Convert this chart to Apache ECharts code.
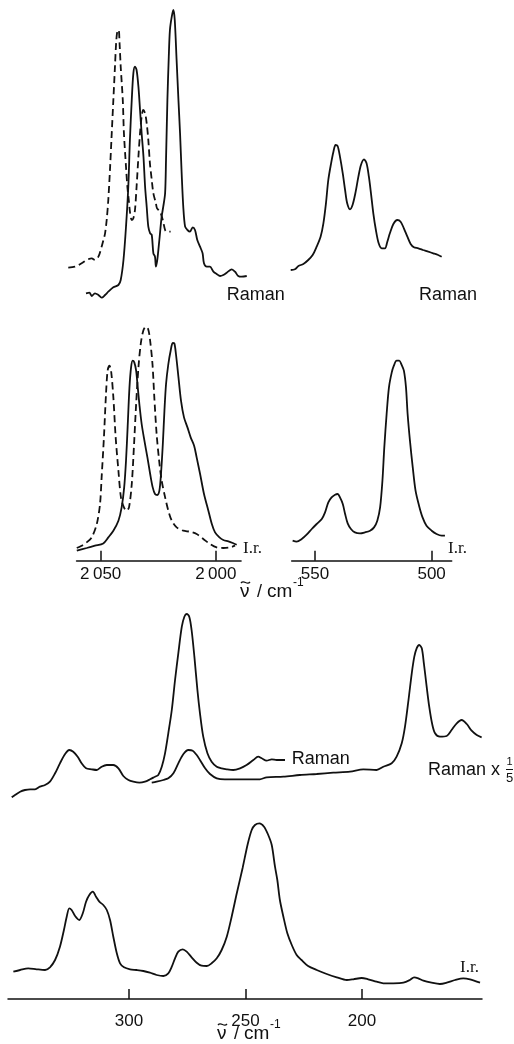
<!DOCTYPE html>
<html>
<head>
<meta charset="utf-8">
<script src="https://cdn.jsdelivr.net/npm/echarts@6/dist/echarts.min.js"></script>
<style>
html,body{margin:0;padding:0;background:#fff;}
#chart{width:514px;height:1044px;}
</style>
</head>
<body>
<div id="chart"></div>
<script>
// ---- data: [wavenumber (cm-1), relative intensity (arb. units)] ----
// Raman, CO stretching region, solid
const ramanHighSolid = [[2056.4,16.7],[2054.9,17.3],[2053.9,14.0],[2052.5,16.7],[2051.0,15.0],[2049.6,12.3],[2048.1,15.0],[2046.7,18.3],[2044.5,22.7],[2042.3,25.0],[2041.3,30.0],[2040.1,50.0],[2039.0,83.3],[2038.0,123.3],[2037.3,170],[2036.5,210],[2035.8,236.7],[2035.1,243.3],[2034.4,240],[2033.6,223.3],[2032.9,200],[2032.2,176.7],[2031.4,153.3],[2030.7,123.3],[2030.0,103.3],[2029.3,83.3],[2028.5,76.7],[2027.8,75],[2027.1,56.7],[2026.4,53.3],[2026.0,43.3],[2025.4,50],[2024.5,70],[2023.5,93.3],[2022.8,103.3],[2022.0,116.7],[2021.6,150],[2021.0,210],[2020.4,253.3],[2019.9,280],[2019.1,293.3],[2018.4,300],[2017.8,290],[2017.0,250],[2016.2,210],[2015.5,176.7],[2014.8,136.7],[2014.1,103.3],[2013.3,83.3],[2012.3,80],[2011.2,78.3],[2010.0,82.7],[2009.0,80],[2008.0,70],[2006.8,63.3],[2005.7,56.7],[2005.1,46.7],[2003.9,43.3],[2002.5,43.3],[2001.0,38.3],[1999.6,36],[1998.1,34],[1996.7,35],[1995.2,37.3],[1993.0,40.7],[1991.6,38.3],[1990.2,34],[1988.7,33.3],[1986.5,34]];
// Raman, CO stretching region, dashed
const ramanHighDashed = [[2064.1,42.3],[2061.2,43.3],[2058.3,46.7],[2056.1,50],[2053.9,51.7],[2052.5,50],[2051.0,53.3],[2049.6,63.3],[2048.8,70],[2048.1,76.7],[2047.4,90],[2046.7,110],[2045.9,143.3],[2045.2,176.7],[2044.5,210],[2043.8,243.3],[2043.3,266.7],[2042.8,278.3],[2042.2,280],[2041.8,266.7],[2041.3,243.3],[2040.4,210],[2039.9,176.7],[2039.0,143.3],[2038.4,123.3],[2037.8,110],[2037.2,96.7],[2036.5,90],[2035.8,91.7],[2035.1,100],[2034.4,123.3],[2033.6,153.3],[2032.9,176.7],[2032.2,193.3],[2031.5,200],[2030.7,196.7],[2030.0,186.7],[2029.3,170],[2028.6,146.7],[2027.8,130],[2027.1,116.7],[2026.0,106.7],[2025.5,101.7],[2024.2,98.3],[2023.0,90],[2022.0,80],[2021.3,78.3],[2019.6,78.3]];
// Raman, 490-560 region
const ramanLow = [[560.4,40],[558.6,40.7],[557.1,44],[555.0,46],[552.9,50],[551.0,55],[549.3,63.3],[547.6,73.3],[546.4,86.7],[545.3,106.7],[544.3,130],[543.1,146.7],[542.1,158.3],[541.2,165],[540.3,164],[539.3,153.3],[538.1,136.7],[537.1,120],[536.2,106.7],[535.0,100.7],[533.9,105],[532.7,116.7],[531.4,133.3],[530.3,145],[529.0,150.7],[527.9,146.7],[526.9,133.3],[526.0,116.7],[525.0,96.7],[523.9,80],[522.7,66.7],[521.4,61.7],[520.0,61.7],[519.0,68.3],[517.9,76.7],[516.4,86],[514.7,90],[513.3,88.3],[511.9,81.7],[510.4,73.3],[509.0,66],[507.6,62.7],[505.7,61.7],[503.6,60],[501.4,58.3],[499.3,56.7],[497.2,55],[495.7,53.3]];
// I.r., CO stretching region, solid
const irHighSolid = [[2060.4,10],[2056.1,12.7],[2052.5,15],[2048.9,17.3],[2046.7,23.3],[2044.5,30],[2042.3,40],[2040.9,53.3],[2039.8,73.3],[2039.0,100],[2038.3,133.3],[2037.5,173.3],[2036.8,193.3],[2036.1,200],[2035.4,198.3],[2034.6,190],[2033.9,173.3],[2033.2,156.7],[2032.2,136.7],[2031.0,120],[2029.7,103.3],[2028.5,86.7],[2027.4,73.3],[2026.4,66.7],[2025.4,65.7],[2024.5,70],[2023.8,86.7],[2023.0,116.7],[2022.3,150],[2021.6,176.7],[2020.6,196.7],[2019.6,210],[2018.7,217.7],[2018.0,217.3],[2017.3,206.7],[2016.2,183.3],[2015.1,160],[2013.8,143.3],[2012.3,133.3],[2010.9,123.3],[2009.4,115],[2008.3,103.3],[2006.8,86.7],[2005.1,66.7],[2003.2,50],[2001.7,36.7],[2000.3,28.3],[1998.4,23.3],[1996.7,20.7],[1994.5,19.3],[1992.6,17.7],[1990.9,16]];
// I.r., CO stretching region, dashed
const irHighDashed = [[2060.4,12.7],[2058.3,15],[2056.1,18.3],[2053.9,23.3],[2051.7,36.7],[2050.3,56.7],[2049.6,83.3],[2048.6,123.3],[2047.7,166.7],[2047.0,190],[2046.2,195],[2045.5,190],[2044.5,163.3],[2043.5,123.3],[2042.3,90],[2041.2,63.3],[2039.9,53.3],[2038.7,50],[2037.7,53.3],[2036.5,76.7],[2035.5,116.7],[2034.6,156.7],[2033.6,193.3],[2032.6,216.7],[2031.5,230],[2030.4,234],[2029.4,231.7],[2028.6,221.7],[2027.5,196.7],[2026.7,163.3],[2025.7,126.7],[2024.6,100],[2023.5,80],[2022.0,63.3],[2020.6,50],[2019.1,40],[2017.0,33.3],[2014.1,30],[2011.2,29],[2008.3,26.7],[2005.4,21.7],[2002.5,16.7],[1999.6,13.3],[1996.7,12.7],[1993.8,13.3],[1991.6,15]];
// I.r., 490-560 region
const irLow = [[559.6,20],[557.9,19],[555.7,21.7],[553.6,26],[551.4,31.7],[549.3,36.7],[547.1,41.7],[545.7,48.3],[544.3,58.3],[542.9,63.3],[541.4,66],[540.3,66.7],[539.3,63.3],[538.1,56.7],[537.1,46.7],[536.0,37.3],[534.6,31.7],[532.9,28.3],[530.7,27.3],[528.6,28.3],[526.4,30],[524.7,33.3],[523.3,40],[522.1,53.3],[521.1,80],[520.3,113.3],[519.3,146.7],[518.3,173.3],[517.1,188.3],[516.2,195],[515.0,200],[513.9,200],[512.9,196],[511.9,190],[511.0,173.3],[510.3,146.7],[509.3,120],[508.1,93.3],[506.9,70],[505.4,55],[503.9,43.3],[502.2,35],[500.0,30],[497.9,26.7],[495.7,25],[494.3,25]];
// Raman, 150-350 region
const ramanFar = [[350.3,42.7],[348.9,45],[346.7,48.3],[344.6,50],[342.4,50.7],[340.3,50.7],[338.2,53.3],[336.0,55],[333.9,58.3],[331.7,66.7],[329.6,76.7],[327.4,86],[325.6,90],[323.9,88.3],[322.0,83.3],[320.3,76.7],[318.4,71.7],[316.0,70.7],[313.8,70],[311.7,73.3],[309.5,75],[306.7,75],[304.5,71.7],[302.4,64],[300.2,60],[298.1,58.3],[295.5,57.3],[293.1,58.3],[290.9,60.7],[288.8,63.3],[287.4,65],[285.9,73.3],[284.5,86.7],[283.1,106.7],[281.6,130],[280.2,160],[278.8,186.7],[277.3,213.3],[276.2,223.3],[275.2,226],[274.1,223.3],[273.1,210],[271.9,183.3],[270.6,150],[269.5,126.7],[268.1,103.3],[266.3,86.7],[264.5,78.3],[262.3,73.3],[260.2,71.7],[258.0,70.7],[255.2,70],[252.3,71.7],[249.5,75],[246.6,80],[244.5,83.3],[243.0,81.7],[240.9,79.3],[238.7,80.7],[236.6,80],[233.0,80]];
// Raman x 1/5, 150-290 region
const ramanFarFifth = [[290.2,57.3],[288.1,58.3],[285.2,60],[283.1,61.7],[280.9,66.7],[278.8,76.7],[276.6,86],[274.5,90],[272.6,89.3],[270.9,85],[269.5,80],[267.3,71.7],[265.2,66],[262.3,61.7],[258.8,60.7],[255.2,60.7],[249.5,60.7],[243.8,60.7],[240.9,62.7],[233.7,63.3],[226.6,65],[219.4,66],[212.3,67.3],[205.1,68.3],[199.4,70.7],[193.7,70],[190.8,73.3],[187.2,76.7],[185.1,83.3],[182.9,96.7],[181.5,113.3],[180.0,140],[178.6,166.7],[177.5,183.3],[176.5,191.7],[175.4,195],[174.3,191.7],[173.4,176.7],[172.2,153.3],[171.1,133.3],[169.9,116.7],[168.6,106.7],[166.5,103.3],[163.6,104],[161.5,110],[159.3,116.7],[157.2,120],[155.0,116],[152.9,109.3],[150.7,105],[148.6,102.7]];
// I.r., 150-350 region
const irFar = [[349.6,27.3],[346.7,29],[343.2,30.7],[339.6,29.7],[336.0,29],[333.9,31.7],[331.7,39],[329.6,52.3],[327.9,69],[326.7,82.3],[325.6,90.7],[324.6,89],[323.1,83],[321.3,79],[319.8,85.7],[318.4,97.3],[317.0,104],[315.5,107.3],[314.1,102.3],[312.7,97.3],[311.0,94],[309.5,89],[308.1,79],[306.7,62.3],[305.2,45.7],[303.8,35.7],[302.1,31.7],[299.5,29.7],[296.7,29],[293.8,28],[291.0,26.3],[288.1,24],[285.2,23],[283.1,25.7],[281.6,32.3],[280.2,40.7],[278.8,47.3],[276.9,49.7],[275.2,47.3],[273.1,41.7],[270.9,36.3],[268.8,33.3],[266.6,33],[264.5,35.7],[262.3,40.7],[260.2,49],[258.0,62.3],[255.9,82.3],[253.7,105.7],[251.2,131],[249.0,155],[247.3,169],[245.9,174],[244.0,175.7],[242.0,172.3],[240.2,164],[238.7,154],[237.3,132.3],[236.3,119],[235.2,99],[233.7,82.3],[232.0,65.7],[230.1,54],[228.0,44],[225.9,39],[223.1,33],[219.4,29],[215.1,25],[210.8,21.7],[206.5,19],[203.7,19.7],[200.1,21],[197.3,19.7],[193.7,17.3],[190.8,15.7],[186.5,15.7],[182.2,16.3],[179.4,19],[177.6,21.7],[175.8,20.7],[173.6,18.3],[170.1,16.3],[166.5,15],[163.6,16.3],[160.0,19],[156.5,20.7],[153.6,19.7],[149.3,16.3]];

// ---- tick labels ----
const ticksHigh = [2050, 2000];
const ticksLow = [550, 500];
const ticksFar = [300, 250, 200];

// ---- chart ----
const chart = echarts.init(document.getElementById('chart'), null, {renderer: 'canvas'});
const INK = '#111';
const LW = 1.8;

const grids = [
  {left: 59.3, top: 0, width: 190.9, height: 310},   // 0 Raman high
  {left: 287.0, top: 0, width: 163.3, height: 310},  // 1 Raman low
  {left: 76.55, top: 310, width: 164.5, height: 250.7}, // 2 IR high
  {left: 291.7, top: 310, width: 160, height: 250.7},   // 3 IR low
  {left: 8, top: 600, width: 474, height: 240},      // 4 Raman far
  {left: 8, top: 800, width: 474, height: 199}       // 5 IR far
];
const xRanges = [[1985, 2068], [492, 562], [1989, 2060.5], [491.4, 560], [148.45, 351.9], [148.45, 351.9]];
const yMax = [310, 310, 250.7, 250.7, 240, 199];
const tickSets = [null, null, ticksHigh, ticksLow, null, ticksFar];
const labelMargins = [0, 0, 5, 5, 0, 14];

function fmt(v) {
  return v >= 1000 ? String(v).replace(/^(\d)(\d{3})$/, '$1\u2009$2') : String(v);
}

const SANS = 'Liberation Sans, Arial, sans-serif';
const SERIF = 'Liberation Serif, Times New Roman, serif';

const xAxes = grids.map((g, i) => {
  const t = tickSets[i];
  return {
    gridIndex: i, type: 'value', inverse: true,
    min: xRanges[i][0], max: xRanges[i][1],
    show: !!t,
    splitLine: {show: false},
    axisLine: {show: !!t, onZero: false, lineStyle: {color: INK, width: 1.5}},
    axisTick: t ? {show: true, inside: true, length: 10, customValues: t, lineStyle: {color: INK, width: 1.5}} : {show: false},
    axisLabel: t ? {show: true, customValues: t, formatter: fmt, margin: labelMargins[i], color: INK, fontSize: 17, fontFamily: SANS} : {show: false}
  };
});
const yAxes = grids.map((g, i) => ({gridIndex: i, type: 'value', min: 0, max: yMax[i], show: false}));

function line(data, idx, dashed) {
  return {
    type: 'line', xAxisIndex: idx, yAxisIndex: idx, data: data,
    symbol: 'none', smooth: 0.3, silent: true,
    lineStyle: {color: INK, width: LW, type: dashed ? [7, 4] : 'solid'}
  };
}

const series = [
  line(ramanHighDashed, 0, true),
  line(ramanHighSolid, 0, false),
  line(ramanLow, 1, false),
  line(irHighDashed, 2, true),
  line(irHighSolid, 2, false),
  line(irLow, 3, false),
  line(ramanFar, 4, false),
  line(ramanFarFifth, 4, false),
  line(irFar, 5, false)
];

function txt(s, x, y, size, family, align) {
  return {type: 'text', x: x, y: y, silent: true,
    style: {text: s, fill: INK, font: size + 'px ' + family, align: align || 'left', verticalAlign: 'middle'}};
}
// "ν̃ / cm⁻¹" built from pieces so the tilde and superscript sit like the original
function nuLabel(x, y) {
  return [
    txt('\u03BD', x, y, 19, SANS),
    {type: 'bezierCurve', silent: true,
     shape: {x1: x + 1, y1: y - 9, cpx1: x + 4, cpy1: y - 13, cpx2: x + 7, cpy2: y - 6, x2: x + 10, y2: y - 10},
     style: {stroke: INK, lineWidth: 1.3, fill: null}},
    txt('/', x + 17, y, 18, SANS),
    txt('cm', x + 27, y, 19, SANS),
    txt('-1', x + 53, y - 9, 12, SANS)
  ];
}

const graphic = [
  txt('Raman', 226.7, 295, 18, SANS),
  txt('Raman', 419, 295, 18, SANS),
  txt('I.r.', 243, 549, 17, SERIF),
  txt('I.r.', 448, 549, 17, SERIF),
  ...nuLabel(240, 592),
  txt('Raman', 291.7, 759, 18, SANS),
  txt('Raman x', 428, 770, 18, SANS),
  txt('1', 509.5, 762, 11, SANS, 'center'),
  txt('5', 509.5, 778, 13, SANS, 'center'),
  {type: 'line', silent: true, shape: {x1: 506, y1: 769.5, x2: 513, y2: 769.5}, style: {stroke: INK, lineWidth: 1}},
  txt('I.r.', 460, 968, 17, SERIF),
  ...nuLabel(217, 1034)
];

chart.setOption({
  animation: false,
  backgroundColor: '#fff',
  grid: grids,
  xAxis: xAxes,
  yAxis: yAxes,
  series: series,
  graphic: graphic
});
</script>
</body>
</html>
